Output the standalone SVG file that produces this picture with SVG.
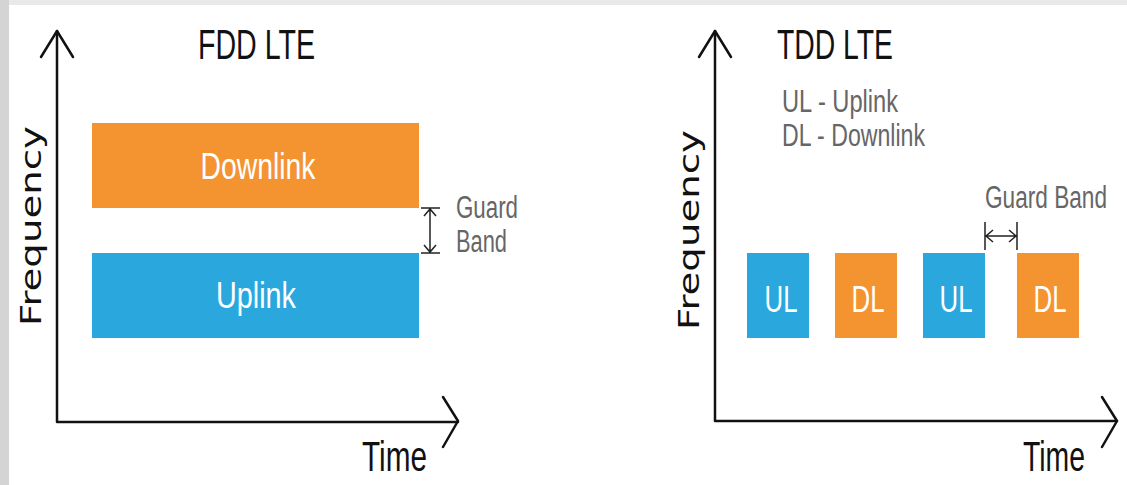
<svg xmlns="http://www.w3.org/2000/svg" width="1127" height="485" viewBox="0 0 1127 485">
<style>
.ax{fill:none;stroke:#111;stroke-width:2.5;stroke-linecap:round;stroke-linejoin:round}
.gb{fill:none;stroke:#222;stroke-width:1.5}
.t{font-family:"Liberation Sans",Arial,sans-serif}
.title{font-size:43px;fill:#111}
.lab{font-size:37px;fill:#fff;text-anchor:middle}
.gray{font-size:31px;fill:#666}
.freq{font-family:"DejaVu Sans",sans-serif;font-size:29px;fill:#111;text-anchor:middle}
.ul{fill:#2aa8de}
.dl{fill:#f39431}
</style>
<rect x="0" y="0" width="1127" height="485" fill="#ffffff"/>
<rect x="0" y="0" width="1127" height="5" fill="#e9e9e9"/>
<rect x="0" y="0" width="9" height="485" fill="#d4d4d4"/>

<g id="fdd-axes">
<path class="ax" d="M57,31 V422 H458"/>
<path class="ax" d="M41,57 L57,31 L73,57"/>
<path class="ax" d="M443,397 L458,421 L443,447"/>
<text class="freq" transform="translate(41,226) rotate(-90)" textLength="200" lengthAdjust="spacingAndGlyphs">Frequency</text>
<text class="t title" x="198" y="59" textLength="117" lengthAdjust="spacingAndGlyphs">FDD LTE</text>
<text class="t title" x="362" y="471" textLength="65" lengthAdjust="spacingAndGlyphs">Time</text>
</g>
<g id="fdd-downlink">
<rect class="dl" x="92" y="123" width="327" height="85"/>
<text class="t lab" x="258" y="179" textLength="115" lengthAdjust="spacingAndGlyphs">Downlink</text>
</g>
<g id="fdd-uplink">
<rect class="ul" x="92" y="253" width="327" height="85"/>
<text class="t lab" x="256" y="308" font-size="36" textLength="80" lengthAdjust="spacingAndGlyphs">Uplink</text>
</g>
<g id="fdd-guard">
<path class="gb" d="M421,208 H440 M421,253 H440 M430,209 V252 M424,216 L430,209 L436,216 M424,245 L430,252 L436,245"/>
<text class="t gray" x="456" y="218" textLength="62" lengthAdjust="spacingAndGlyphs">Guard</text>
<text class="t gray" x="456" y="252" textLength="51" lengthAdjust="spacingAndGlyphs">Band</text>
</g>

<g id="tdd-axes">
<path class="ax" d="M715,31 V421 H1117"/>
<path class="ax" d="M699,57 L715,31 L731,57"/>
<path class="ax" d="M1102,397 L1117,421 L1102,447"/>
<text class="freq" transform="translate(699,230) rotate(-90)" textLength="200" lengthAdjust="spacingAndGlyphs">Frequency</text>
<text class="t title" x="777" y="59" textLength="116" lengthAdjust="spacingAndGlyphs">TDD LTE</text>
<text class="t title" x="1023" y="471" textLength="62" lengthAdjust="spacingAndGlyphs">Time</text>
</g>
<g id="tdd-legend">
<text class="t gray" x="782" y="112" textLength="116" lengthAdjust="spacingAndGlyphs">UL - Uplink</text>
<text class="t gray" x="782" y="146" textLength="143" lengthAdjust="spacingAndGlyphs">DL - Downlink</text>
</g>
<g id="tdd-ul1">
<rect class="ul" x="747" y="253" width="62" height="85"/>
<text class="t lab" x="781" y="312" font-size="40" textLength="33" lengthAdjust="spacingAndGlyphs">UL</text>
</g>
<g id="tdd-dl1">
<rect class="dl" x="835" y="253" width="62" height="85"/>
<text class="t lab" x="868" y="312" font-size="40" textLength="33" lengthAdjust="spacingAndGlyphs">DL</text>
</g>
<g id="tdd-ul2">
<rect class="ul" x="923" y="253" width="62" height="85"/>
<text class="t lab" x="956" y="312" font-size="40" textLength="33" lengthAdjust="spacingAndGlyphs">UL</text>
</g>
<g id="tdd-dl2">
<rect class="dl" x="1017" y="253" width="62" height="85"/>
<text class="t lab" x="1050" y="312" font-size="40" textLength="33" lengthAdjust="spacingAndGlyphs">DL</text>
</g>
<g id="tdd-guard">
<path class="gb" d="M985,222 V250 M1017,222 V250 M986,236 H1016 M993,230 L986,236 L993,242 M1009,230 L1016,236 L1009,242"/>
<text class="t gray" x="985" y="208" textLength="122" lengthAdjust="spacingAndGlyphs">Guard Band</text>
</g>
</svg>
